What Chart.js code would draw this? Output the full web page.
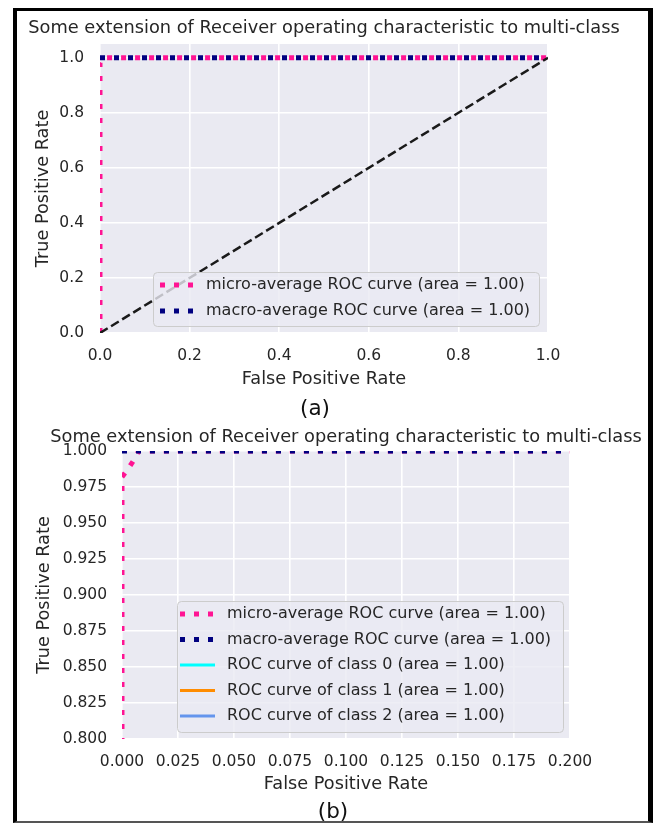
<!DOCTYPE html>
<html><head><meta charset="utf-8">
<script src="https://cdn.jsdelivr.net/npm/chart.js@4/dist/chart.umd.min.js"></script>
<style>
html,body{margin:0;padding:0;background:#fff;}
body{width:658px;height:823px;position:relative;overflow:hidden;font-family:'DejaVu Sans';}
#frame{position:absolute;left:13px;top:8px;width:640px;height:815px;box-sizing:border-box;border-left:4px solid #000;border-top:3px solid #000;border-right:5px solid #000;border-bottom:2px solid #555;}
canvas{position:absolute;left:0;}
#ca{top:0;} #cb{top:400px;}
.lab{position:absolute;font-size:21.5px;color:#111;transform:translate(-50%,-50%);white-space:nowrap;font-family:'DejaVu Sans';}
</style></head><body>
<div id="frame"></div>
<canvas id="ca" width="658" height="393"></canvas>
<canvas id="cb" width="658" height="399"></canvas>
<div class="lab" style="left:315px;top:407px">(a)</div>
<div class="lab" style="left:333px;top:810px">(b)</div>
<script>
// ---- data ----
const chartTitle = 'Some extension of Receiver operating characteristic to multi-class';
const xAxisTitle = 'False Positive Rate';
const yAxisTitle = 'True Positive Rate';

const seriesLabels = [
  'micro-average ROC curve (area = 1.00)',
  'macro-average ROC curve (area = 1.00)',
  'ROC curve of class 0 (area = 1.00)',
  'ROC curve of class 1 (area = 1.00)',
  'ROC curve of class 2 (area = 1.00)'
];
const seriesColors = ['#FF1493', '#000080', '#00FFFF', '#FF8C00', '#6495ED'];

const microFpr = [0, 0, 0.0025, 0.005, 0.0075, 1];
const microTpr = [0, 0.982, 0.987, 0.993, 1, 1];
const macroFpr = [0, 1];
const macroTpr = [1, 1];
const chanceFpr = [0, 1];
const chanceTpr = [0, 1];
const class0Fpr = [], class0Tpr = [];
const class1Fpr = [], class1Tpr = [];
const class2Fpr = [], class2Tpr = [];

const xTicksA = [0, 0.2, 0.4, 0.6, 0.8, 1.0];
const yTicksA = [0, 0.2, 0.4, 0.6, 0.8, 1.0];
const xTicksB = [0, 0.025, 0.05, 0.075, 0.1, 0.125, 0.15, 0.175, 0.2];
const yTicksB = [0.8, 0.825, 0.85, 0.875, 0.9, 0.925, 0.95, 0.975, 1.0];

// ---- helpers ----
const FONT = 'DejaVu Sans';
const TEXT = '#262626';
const pts = (xs, ys) => xs.map((x, i) => ({x: x, y: ys[i]}));

const bgPlugin = {
  id: 'plotBg',
  beforeDraw(chart) {
    const {ctx, chartArea: a} = chart;
    ctx.save();
    ctx.fillStyle = '#EAEAF2';
    ctx.fillRect(a.left, a.top, a.right - a.left, a.bottom - a.top);
    ctx.restore();
  }
};

const titlePlugin = {
  id: 'centerTitle',
  afterDraw(chart, args, o) {
    const {ctx, chartArea: a} = chart;
    ctx.save();
    ctx.fillStyle = TEXT;
    ctx.font = '17.8px "' + FONT + '"';
    ctx.textAlign = 'center';
    ctx.textBaseline = 'middle';
    ctx.fillText(o.text, (a.left + a.right) / 2, o.y);
    ctx.restore();
  }
};

const legendPlugin = {
  id: 'boxLegend',
  afterDraw(chart, args, o) {
    const ctx = chart.ctx;
    ctx.save();
    ctx.beginPath();
    ctx.roundRect(o.x + 0.5, o.y + 0.5, o.w, o.h, 4);
    ctx.fillStyle = 'rgba(234,234,242,0.8)';
    ctx.fill();
    ctx.strokeStyle = '#CCCCCC';
    ctx.lineWidth = 1;
    ctx.stroke();
    let row = 0;
    chart.data.datasets.forEach(ds => {
      if (ds.hideInLegend) return;
      const y = o.rowY0 + row * o.rowH;
      ctx.beginPath();
      ctx.setLineDash(ds.borderDash || []);
      ctx.lineCap = 'butt';
      ctx.strokeStyle = ds.borderColor;
      ctx.lineWidth = ds.borderWidth;
      ctx.moveTo(o.sampleX, y);
      ctx.lineTo(o.sampleX + o.sampleW, y);
      ctx.stroke();
      ctx.setLineDash([]);
      ctx.fillStyle = TEXT;
      ctx.font = '16px "' + FONT + '"';
      ctx.textBaseline = 'middle';
      ctx.textAlign = 'left';
      ctx.fillText(ds.label, o.textX, y);
      row++;
    });
    ctx.restore();
  }
};

function baseDs(extra) {
  return Object.assign({showLine: true, pointRadius: 0, pointHoverRadius: 0, fill: false,
    tension: 0, clip: 0, borderCapStyle: 'butt', borderJoinStyle: 'miter'}, extra);
}

function makeChart(id, cfg) {
  const scaleCommon = (ticksArr, digits, pad) => ({
    type: 'linear',
    afterBuildTicks: s => { s.ticks = ticksArr.map(v => ({value: v})); },
    ticks: {
      callback: v => Number(v).toFixed(digits),
      font: {family: FONT, size: 15.5},
      color: TEXT,
      padding: pad,
      maxRotation: 0,
      autoSkip: false
    },
    grid: {color: '#FFFFFF', lineWidth: 1.6, drawTicks: false},
    border: {display: false}
  });
  const x = scaleCommon(cfg.xTicks, cfg.xDigits, 13.7);
  x.min = cfg.xMin; x.max = cfg.xMax;
  x.title = {display: true, text: xAxisTitle, color: TEXT, font: {family: FONT, size: 17.7},
    padding: {top: 0, bottom: cfg.xTitleBottom}};
  x.afterFit = s => { s.height = 60; };
  const y = scaleCommon(cfg.yTicks, cfg.yDigits, cfg.yTickPad);
  y.min = cfg.yMin; y.max = cfg.yMax;
  y.title = {display: true, text: yAxisTitle, color: TEXT, font: {family: FONT, size: 17.7},
    padding: {top: cfg.yTitleTop, bottom: 0}};
  y.afterFit = s => { s.width = cfg.yWidth; };

  return new Chart(document.getElementById(id), {
    type: 'scatter',
    data: {datasets: cfg.datasets},
    options: {
      responsive: false,
      animation: false,
      devicePixelRatio: 1,
      layout: {padding: {left: 0, top: cfg.topPad, right: cfg.rightPad, bottom: 0}},
      scales: {x: x, y: y},
      plugins: {
        legend: {display: false},
        tooltip: {enabled: false},
        title: {display: false},
        centerTitle: {text: chartTitle, y: cfg.titleY},
        boxLegend: cfg.legend
      }
    },
    plugins: [bgPlugin, titlePlugin, legendPlugin]
  });
}

const dotted = {borderWidth: 5, borderDash: [5, 9]};

makeChart('ca', {
  xMin: 0, xMax: 1, xTicks: xTicksA, xDigits: 1,
  yMin: 0, yMax: 1.05, yTicks: yTicksA, yDigits: 1,
  yWidth: 100, yTickPad: 16, yTitleTop: 32.4, xTitleBottom: 3.4,
  rightPad: 110, topPad: 44, titleY: 28,
  legend: {x: 153, y: 272, w: 386, h: 54, rowY0: 285, rowH: 26, sampleX: 160, sampleW: 33, textX: 206},
  datasets: [
    baseDs(Object.assign({label: seriesLabels[0], data: pts(microFpr, microTpr), borderColor: seriesColors[0], order: 2}, dotted)),
    baseDs(Object.assign({label: seriesLabels[1], data: pts(macroFpr, macroTpr), borderColor: seriesColors[1], order: 1}, dotted)),
    baseDs({label: 'chance', hideInLegend: true, data: pts(chanceFpr, chanceTpr), borderColor: '#1A1A1A',
      borderWidth: 2.5, borderDash: [9, 4], order: 0})
  ]
});

makeChart('cb', {
  xMin: 0, xMax: 0.2, xTicks: xTicksB, xDigits: 3,
  yMin: 0.8, yMax: 1.0, yTicks: yTicksB, yDigits: 3,
  yWidth: 122, yTickPad: 15, yTitleTop: 33.4, xTitleBottom: 4.4,
  rightPad: 88, topPad: 51, titleY: 37,
  legend: {x: 177, y: 201, w: 386, h: 131, rowY0: 214, rowH: 25.5, sampleX: 180, sampleW: 35, textX: 227},
  datasets: [
    baseDs(Object.assign({label: seriesLabels[0], data: pts(microFpr, microTpr), borderColor: seriesColors[0], order: 5}, dotted)),
    baseDs(Object.assign({label: seriesLabels[1], data: pts(macroFpr, macroTpr), borderColor: seriesColors[1], order: 4}, dotted)),
    baseDs({label: seriesLabels[2], data: pts(class0Fpr, class0Tpr), borderColor: seriesColors[2], borderWidth: 3, order: 3}),
    baseDs({label: seriesLabels[3], data: pts(class1Fpr, class1Tpr), borderColor: seriesColors[3], borderWidth: 3, order: 2}),
    baseDs({label: seriesLabels[4], data: pts(class2Fpr, class2Tpr), borderColor: seriesColors[4], borderWidth: 3, order: 1})
  ]
});
</script>
</body></html>
